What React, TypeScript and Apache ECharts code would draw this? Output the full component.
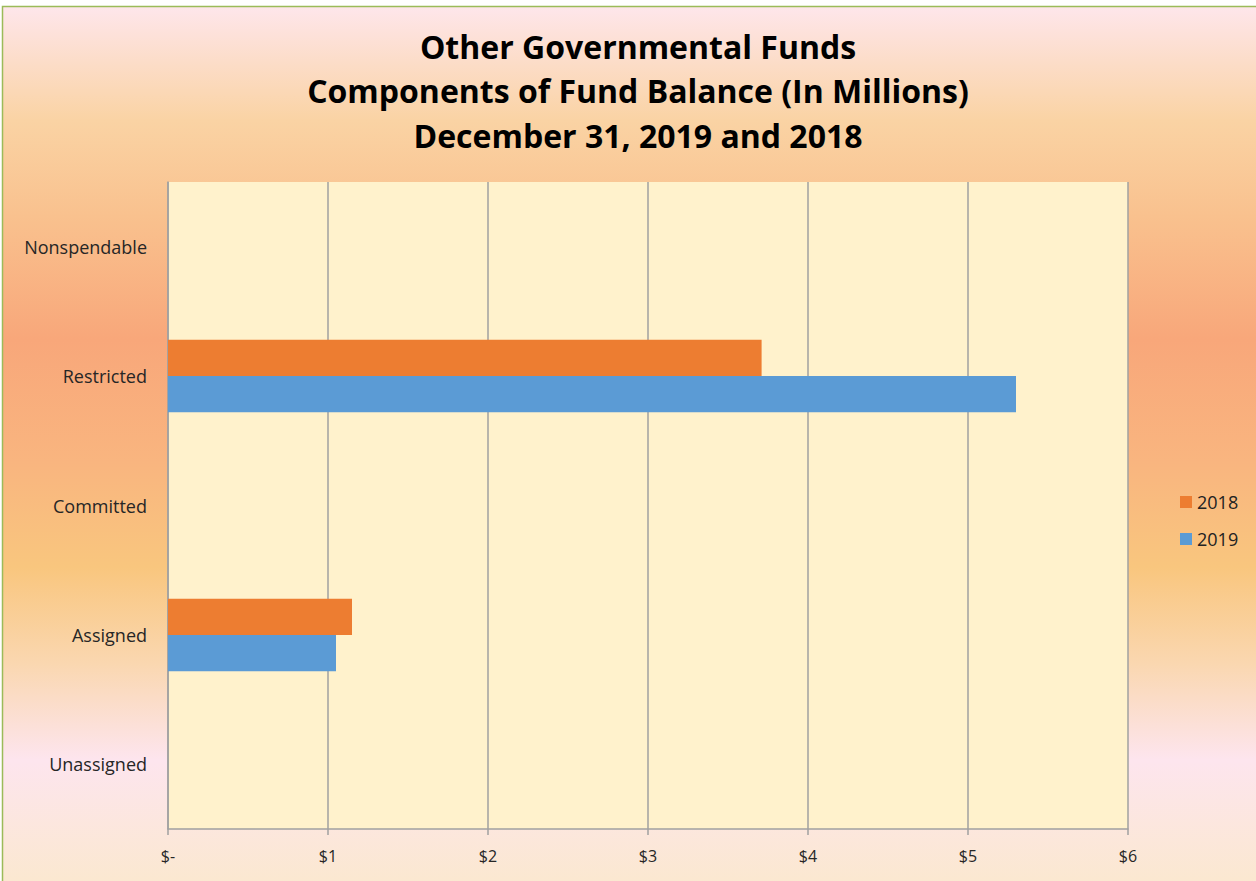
import React, { useEffect, useRef } from "react";
import * as echarts from "echarts";

const titleLines = [
  "Other Governmental Funds",
  "Components of Fund Balance (In Millions)",
  "December 31, 2019 and 2018",
];
const categories = ["Nonspendable", "Restricted", "Committed", "Assigned", "Unassigned"];
const values2018 = [0, 3.71, 0, 1.15, 0];
const values2019 = [0, 5.3, 0, 1.05, 0];
const seriesNames = ["2018", "2019"];
const xTicks = { min: 0, max: 6, interval: 1 };

export default function App() {
  const ref = useRef<HTMLDivElement>(null);
  useEffect(() => {
    document.body.style.margin = "0";
    const chart = echarts.init(ref.current!, null, { renderer: "svg" });
    const font = "'Open Sans', 'Noto Sans', sans-serif";
    chart.setOption({
      animation: false,
      backgroundColor: "#ffffff",
      graphic: [
        {
          type: "rect",
          z: -10,
          silent: true,
          shape: { x: 2.5, y: 6.5, width: 1400, height: 876 },
          style: {
            fill: new echarts.graphic.LinearGradient(0, 0, 0, 1, [
              { offset: 0, color: "#FEE6EB" },
              { offset: 0.13, color: "#FAD3A4" },
              { offset: 0.24, color: "#F9C18E" },
              { offset: 0.38, color: "#F8A77A" },
              { offset: 0.52, color: "#F9B57F" },
              { offset: 0.64, color: "#F9C67E" },
              { offset: 0.75, color: "#FAD7B0" },
              { offset: 0.86, color: "#FDE5EE" },
              { offset: 1, color: "#FBE8D0" },
            ]),
            stroke: "#9BBB59",
            lineWidth: 1.5,
          },
        },
      ],
      title: {
        text: titleLines.join("\n"),
        left: 633,
        textAlign: "center",
        top: 19,
        textStyle: {
          fontFamily: font,
          fontWeight: "bold",
          fontSize: 32,
          lineHeight: 44.5,
          color: "#000000",
        },
      },
      legend: {
        orient: "vertical",
        left: 1175,
        top: 488,
        itemWidth: 12,
        itemHeight: 12,
        itemGap: 19,
        icon: "rect",
        textStyle: { fontFamily: font, fontSize: 18, color: "#222222", padding: [0, 0, 0, 0] },
        data: seriesNames,
      },
      grid: {
        left: 168,
        top: 182,
        right: 128,
        bottom: 52,
        show: true,
        backgroundColor: "#FFF2CC",
        borderWidth: 0,
      },
      xAxis: {
        type: "value",
        min: xTicks.min,
        max: xTicks.max,
        interval: xTicks.interval,
        axisLine: { show: true, lineStyle: { color: "#A0A0A0", width: 1.5 } },
        axisTick: { show: true, length: 6, lineStyle: { color: "#A0A0A0", width: 1.5 } },
        splitLine: { show: true, lineStyle: { color: "#A0A0A0", width: 1.5 } },
        axisLabel: {
          fontFamily: font,
          fontSize: 16,
          color: "#262626",
          margin: 19,
          formatter: (v: number) => (v === 0 ? "$-" : "$" + v),
        },
      },
      yAxis: {
        type: "category",
        inverse: true,
        data: categories,
        axisLine: { show: true, lineStyle: { color: "#A0A0A0", width: 1.5 } },
        axisTick: { show: false },
        axisLabel: { fontFamily: font, fontSize: 18, color: "#262626", margin: 21 },
      },
      series: [
        {
          name: seriesNames[0],
          type: "bar",
          data: values2018,
          itemStyle: { color: "#ED7D31" },
          barGap: "0%",
          barCategoryGap: "44%",
        },
        {
          name: seriesNames[1],
          type: "bar",
          data: values2019,
          itemStyle: { color: "#5B9BD5" },
          barGap: "0%",
          barCategoryGap: "44%",
        },
      ],
    });
    return () => chart.dispose();
  }, []);
  return (
    <div
      ref={ref}
      style={{ position: "fixed", left: 0, top: 0, width: 1256, height: 881 }}
    />
  );
}
